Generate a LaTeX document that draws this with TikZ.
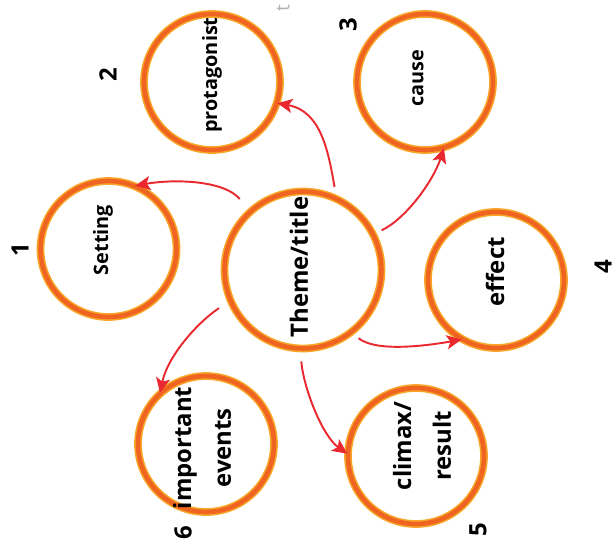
\documentclass[tikz,border=0pt]{standalone}
\usepackage{fontspec}
\setmainfont{Open Sans}
\usetikzlibrary{arrows.meta}
\definecolor{ringout}{RGB}{248,166,42}
\definecolor{ringin}{RGB}{238,100,32}
\definecolor{arrred}{RGB}{234,40,48}
\tikzset{
  ring/.style={circle, draw=ringout, double=ringin, line width=0.9pt, double distance=2.6pt,
    minimum size=2.72cm, inner sep=0pt},
  bigring/.style={ring, minimum size=3.14cm},
  lbl/.style={rotate=90, font=\bfseries\fontsize{11.3}{13}\selectfont, align=center, inner sep=0pt},
  biglbl/.style={lbl, font=\bfseries\fontsize{13.6}{22.7}\selectfont},
  num/.style={rotate=90, font=\bfseries\fontsize{13.6}{15}\selectfont, inner sep=0pt},
  arr/.style={draw=arrred, line width=1.1pt, -{Stealth[length=8.5pt,width=8pt,inset=2pt]}}
}
\begin{document}
\begin{tikzpicture}[x=0.02cm,y=0.02cm]
\useasboundingbox (0,0) rectangle (615,-555);
% circles
\node[bigring] (theme) at (303,-270) {};
\node[ring] (setting) at (108.5,-249) {};
\node[ring] (prot) at (212,-82) {};
\node[ring] (cause) at (425,-82) {};
\node[ring] (effect) at (496,-280) {};
\node[ring] (events) at (206,-444) {};
\node[ring] (climax) at (416,-456) {};
% texts
\node[biglbl] (theme-t) at (299,-267) {Theme/title};
\node[lbl] (setting-t) at (103,-240) {Setting};
\node[lbl] (prot-t) at (212,-75) {protagonist};
\node[lbl] (cause-t) at (418,-78) {cause};
\node[biglbl] (effect-t) at (495,-272) {effect};
\node[biglbl] (events-t) at (202,-448) {important\\events};
\node[biglbl] (climax-t) at (422,-446) {climax/\\result};
% numbers
\node[num] (n1) at (20,-250) {1};
\node[num] (n2) at (108,-75) {2};
\node[num] (n3) at (348,-25) {3};
\node[num] (n4) at (603,-267) {4};
\node[num] (n5) at (478,-530) {5};
\node[num] (n6) at (183,-533) {6};
\node[rotate=90, text=gray!60, font=\fontsize{11}{11}\selectfont, inner sep=0pt] (tt) at (283,-8) {t};
% arrows
\draw[arr, shorten <=9pt] (theme.132) .. controls +(130:40) and +(10:40) .. (setting.67);
\draw[arr, shorten <=6.5pt] (theme.65) .. controls +(100:45) and +(-10:45) .. (prot.-18);
\draw[arr, shorten <=5pt] (theme.27) .. controls +(25:35) and +(252:35) .. (cause.-74);
\draw[arr, shorten <=7.5pt] (theme.203) .. controls +(213:35) and +(78:40) .. (events.132);
\draw[arr, shorten <=5pt] (theme.-52) .. controls +(-40:30) and +(190:40) .. (effect.240);
\draw[arr, shorten <=7pt] (theme.268) .. controls +(275:40) and +(145:30) .. (climax.178);
\end{tikzpicture}
\end{document}
